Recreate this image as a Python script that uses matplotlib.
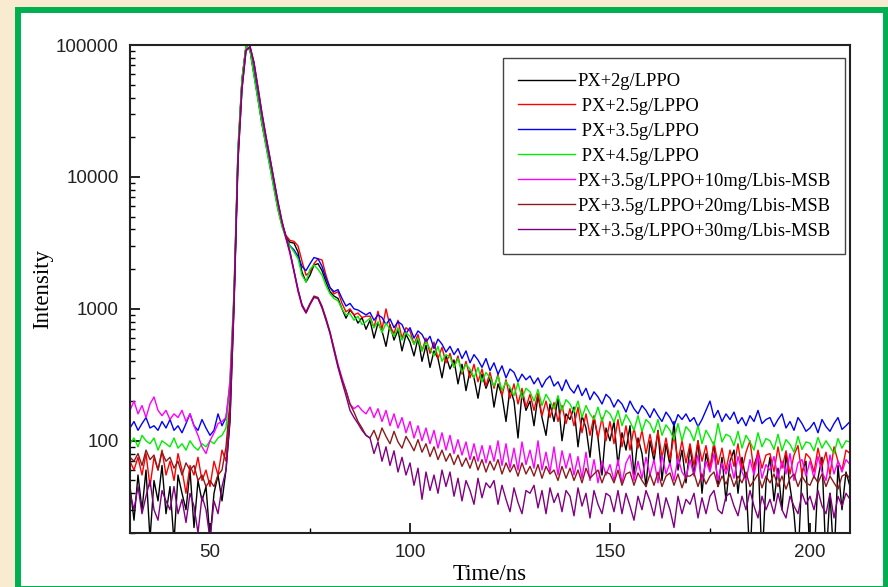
import numpy as np
import matplotlib
matplotlib.use("Agg")
import matplotlib.pyplot as plt
from matplotlib.patches import Rectangle
from matplotlib.ticker import FixedLocator, LogLocator, NullFormatter, MultipleLocator

# Decay curves, one sample per ns from 30 to 210 ns
time_ns = np.arange(30, 211)

px_2g = [
    45, 25, 55, 30, 60, 18, 50, 35, 65, 28,
    45, 17, 55, 40, 30, 60, 22, 50, 35, 45,
    18, 40, 55, 35, 60, 140, 1100, 15000, 54000, 97000,
    92000, 60000, 39000, 25000, 17500, 12000, 8200, 5700, 4300, 3500,
    3200, 3150, 2700, 1900, 1600, 1800, 2150, 2200, 1950, 1600,
    1350, 1250, 1200, 1000, 850, 980, 900, 780, 860, 700,
    820, 600, 780, 680, 520, 760, 580, 690, 480, 640,
    560, 440, 600, 400, 530, 360, 480, 420, 300, 440,
    350, 410, 270, 380, 240, 340, 300, 210, 320, 250,
    300, 180, 270, 220, 140, 250, 200, 105, 230, 170,
    200, 130, 220, 150, 110, 190, 140, 210, 100, 160,
    145, 180, 90, 155, 125, 75, 150, 105, 55, 125,
    100, 140, 65, 115, 85, 130, 55, 105, 80, 45,
    100, 70, 120, 50, 95, 65, 140, 60, 85, 48,
    90, 55, 100, 40, 80, 60, 95, 45, 75, 35,
    70, 85, 40, 75, 50, 12, 65, 80, 12, 48,
    75, 35, 62, 30, 80, 45, 28, 12, 58, 70,
    12, 12, 52, 75, 12, 40, 12, 65, 30, 58,
    45]

px_2_5g = [
    70, 60, 75, 55, 80, 45, 75, 60, 85, 55,
    70, 50, 80, 60, 40, 65, 55, 75, 50, 60,
    45, 70, 55, 85, 70, 180, 1300, 16000, 55000, 98000,
    93000, 61000, 40000, 26000, 18000, 12500, 8500, 5900, 4400, 3600,
    3300, 3250, 3000, 2300, 1800, 1900, 2200, 2400, 2350, 1800,
    1450, 1300, 1350, 1100, 950, 1000, 900, 930, 860, 880,
    880, 720, 960, 700, 1000, 740, 650, 820, 600, 720,
    680, 540, 640, 480, 600, 460, 560, 420, 510, 390,
    460, 360, 440, 320, 400, 300, 380, 280, 350, 260,
    330, 250, 320, 220, 290, 210, 270, 190, 250, 180,
    225, 170, 230, 155, 200, 150, 195, 140, 185, 135,
    175, 130, 180, 115, 160, 110, 155, 105, 150, 100,
    140, 95, 145, 90, 130, 85, 125, 88, 120, 80,
    112, 78, 118, 75, 105, 72, 110, 70, 100, 68,
    95, 65, 100, 70, 92, 62, 98, 66, 88, 60,
    85, 64, 95, 60, 82, 100, 58, 85, 62, 78,
    80, 58, 90, 62, 84, 56, 78, 92, 55, 80,
    74, 58, 88, 64, 82, 55, 90, 70, 60, 85,
    80]

px_3_5g = [
    125, 140, 120, 135, 150, 125, 130, 120, 140, 125,
    145, 120, 130, 115, 135, 160, 130, 120, 145, 125,
    110, 120, 160, 130, 150, 260, 1200, 15500, 54000, 97000,
    93000, 61000, 40000, 26000, 18000, 12500, 8500, 5900, 4400, 3500,
    3000, 2800, 2500, 2100, 1950, 2200, 2450, 2400, 2100, 1700,
    1450, 1350, 1400, 1200, 1050, 1100, 1000, 980, 940, 900,
    940, 820, 900, 860, 760, 840, 720, 800, 760, 650,
    720, 600, 680, 640, 560, 620, 500, 590, 540, 470,
    520, 450, 500, 420, 480, 390, 450, 410, 360, 420,
    340, 390, 320, 370, 300, 350, 330, 280, 320, 290,
    310, 270, 300, 255, 290, 310, 260, 280, 240, 290,
    250, 230, 265, 220, 250, 205, 235, 215, 190, 225,
    210, 180, 205, 190, 165, 200, 175, 160, 185, 170,
    150, 175, 155, 140, 165, 150, 130, 158, 145, 160,
    140, 150, 128, 145, 170, 200, 150, 170, 140, 160,
    145, 165, 135, 150, 130, 155, 140, 170, 135, 145,
    150, 128, 145, 160, 125, 140, 120, 150, 135, 118,
    125, 138, 115, 145, 128, 118, 135, 150, 122, 130,
    140]

px_4_5g = [
    95, 105, 90, 110, 100, 95, 105, 85, 100, 95,
    90, 105, 88, 95, 85, 100, 90, 85, 95, 90,
    100, 95, 105, 110, 125, 300, 1400, 17000, 56000, 98000,
    91000, 58000, 38000, 25000, 17000, 11800, 8000, 5600, 4200, 3400,
    3000, 2700, 2400, 1800, 1600, 2000, 2150, 2000, 1800, 1500,
    1300, 1200, 1150, 1000, 900, 920, 820, 880, 760, 800,
    850, 720, 800, 660, 780, 700, 620, 720, 580, 660,
    620, 540, 600, 480, 560, 500, 440, 520, 400, 450,
    430, 360, 420, 330, 380, 350, 300, 360, 280, 330,
    300, 260, 310, 240, 280, 255, 220, 275, 210, 250,
    235, 200, 245, 185, 225, 200, 175, 220, 170, 205,
    190, 165, 200, 150, 185, 160, 145, 180, 140, 170,
    160, 138, 170, 130, 158, 140, 120, 155, 118, 145,
    135, 115, 145, 110, 132, 120, 102, 135, 100, 128,
    118, 100, 130, 95, 120, 106, 92, 135, 98, 112,
    108, 92, 118, 88, 110, 98, 85, 115, 90, 104,
    100, 86, 112, 84, 102, 94, 82, 108, 86, 98,
    96, 84, 106, 88, 100, 90, 80, 104, 88, 100,
    98]

msb_10mg = [
    170, 200, 160, 185, 150, 190, 215, 170, 155, 170,
    145, 160, 150, 170, 140, 160, 130, 110, 90, 80,
    100, 115, 135, 140, 150, 280, 1200, 14000, 48000, 92000,
    97000, 72000, 46000, 29000, 19500, 13500, 9200, 6300, 4500, 3400,
    2600, 1900, 1350, 1050, 930, 1080, 1230, 1200, 1020, 830,
    660, 500, 380, 300, 240, 190, 175, 185, 170, 160,
    180, 150, 175, 140, 170, 130, 160, 125, 150, 115,
    140, 105, 130, 100, 125, 95, 120, 88, 115, 85,
    110, 80, 102, 78, 98, 72, 95, 70, 92, 68,
    92, 70, 100, 65, 95, 62, 88, 60, 98, 66,
    85, 62, 100, 60, 82, 58, 90, 55, 84, 62,
    80, 55, 76, 52, 82, 50, 72, 48, 70, 55,
    66, 50, 72, 48, 68, 78, 50, 70, 52, 75,
    55, 72, 48, 78, 56, 68, 50, 74, 58, 52,
    72, 54, 78, 50, 70, 58, 80, 50, 68, 56,
    70, 52, 76, 58, 50, 72, 55, 78, 52, 66,
    60, 76, 52, 70, 56, 80, 50, 68, 72, 54,
    70, 52, 76, 58, 50, 78, 56, 70, 58, 72,
    66]

msb_20mg = [
    75, 70, 80, 65, 85, 72, 78, 60, 82, 70,
    75, 62, 70, 55, 68, 60, 65, 50, 55, 45,
    50, 45, 55, 60, 90, 200, 1100, 13500, 47000, 91000,
    97000, 73000, 47000, 30000, 20000, 13800, 9400, 6400, 4600, 3500,
    2700, 1950, 1400, 1080, 950, 1100, 1250, 1220, 1050, 850,
    670, 500, 370, 290, 240, 190, 165, 140, 125, 110,
    105, 120, 100, 125, 108, 95, 118, 98, 88, 108,
    96, 84, 102, 82, 95, 76, 90, 72, 85, 70,
    80, 66, 78, 64, 74, 62, 76, 60, 72, 58,
    70, 60, 72, 56, 68, 58, 66, 54, 68, 56,
    64, 54, 66, 52, 64, 56, 60, 50, 64, 52,
    62, 50, 60, 48, 62, 52, 56, 60, 48, 58,
    56, 48, 60, 46, 56, 58, 46, 57, 50, 45,
    56, 46, 58, 45, 54, 57, 46, 56, 44, 54,
    54, 57, 45, 56, 47, 54, 58, 45, 54, 47,
    56, 45, 54, 48, 58, 45, 50, 56, 44, 54,
    48, 56, 45, 54, 43, 52, 56, 45, 54, 48,
    46, 54, 48, 56, 45, 54, 48, 43, 54, 56,
    52]

msb_30mg = [
    40, 30, 45, 28, 38, 50, 30, 25, 42, 35,
    30, 45, 28, 36, 24, 40, 32, 20, 38, 30,
    18, 35, 28, 45, 60, 150, 1000, 13000, 46000, 90000,
    98000, 74000, 48000, 30500, 20500, 14000, 9500, 6500, 4600, 3500,
    2700, 1950, 1400, 1060, 930, 1080, 1220, 1200, 1020, 820,
    650, 480, 360, 280, 220, 170, 150, 135, 120, 110,
    105, 80, 98, 70, 90, 65, 84, 58, 75, 55,
    68, 46, 62, 36, 58, 42, 55, 40, 60, 45,
    58, 38, 52, 35, 50, 42, 33, 52, 37, 48,
    44, 50, 33, 46, 36, 29, 44, 34, 28, 42,
    40, 46, 31, 42, 28, 44, 34, 40, 29, 42,
    38, 27, 44, 32, 40, 26, 42, 33, 28, 40,
    38, 29, 42, 28, 40, 32, 25, 38, 30, 42,
    35, 27, 40, 26, 37, 30, 22, 38, 28, 36,
    33, 40, 26, 37, 28, 38, 42, 30, 28, 38,
    40, 32, 27, 38, 30, 42, 32, 26, 38, 30,
    36, 28, 40, 30, 26, 38, 32, 28, 40, 33,
    38, 30, 42, 32, 28, 40, 26, 38, 32, 40,
    36]

series = [
    (px_2g, "PX+2g/LPPO", "#000000"),
    (px_2_5g, " PX+2.5g/LPPO", "#ff0000"),
    (px_3_5g, " PX+3.5g/LPPO", "#0000ff"),
    (px_4_5g, " PX+4.5g/LPPO", "#00ee00"),
    (msb_10mg, "PX+3.5g/LPPO+10mg/Lbis-MSB", "#ff00ff"),
    (msb_20mg, "PX+3.5g/LPPO+20mg/Lbis-MSB", "#8b1a1a"),
    (msb_30mg, "PX+3.5g/LPPO+30mg/Lbis-MSB", "#800080"),
]

serif = "Liberation Serif"
sans = "Liberation Sans"

fig = plt.figure(figsize=(8.88, 5.87), dpi=100, facecolor="#f8ebd0")
# white panel with a green border, kept behind the axes
fig.patches.append(Rectangle((0.0203, -0.004), 0.977, 0.987, transform=fig.transFigure,
                             facecolor="white", edgecolor="#00b050", linewidth=4.3, zorder=-5))

ax = fig.add_axes([0.1464, 0.092, 0.8108, 0.8313])
ax.set_facecolor("white")

for values, label, color in series:
    ax.plot(time_ns, values, color=color, linewidth=1.0, label=label)

ax.set_yscale("log")
ax.set_xlim(30, 210)
ax.set_ylim(20, 100000)

ax.yaxis.set_major_locator(FixedLocator([100, 1000, 10000, 100000]))
ax.set_yticklabels(["100", "1000", "10000", "100000"])
ax.yaxis.set_minor_locator(LogLocator(base=10, subs=np.arange(2, 10)))
ax.yaxis.set_minor_formatter(NullFormatter())
ax.xaxis.set_major_locator(FixedLocator([50, 100, 150, 200]))
ax.xaxis.set_minor_locator(MultipleLocator(25))

ax.tick_params(which="major", direction="in", length=7, width=1.2, pad=8,
               labelsize=13.5, top=False, right=False)
ax.tick_params(which="minor", direction="in", length=3.6, width=1.0, top=False, right=False)
for lbl in ax.get_xticklabels() + ax.get_yticklabels():
    lbl.set_fontfamily(sans)
    lbl.set_color("#222222")

for side in ax.spines.values():
    side.set_linewidth(1.5)
    side.set_color("#222222")

ax.set_xlabel("Time/ns", fontfamily=serif, fontsize=16.5, labelpad=2)
ax.set_ylabel("Intensity", fontfamily=serif, fontsize=16.5, labelpad=2)

leg = ax.legend(loc="upper right", bbox_to_anchor=(0.993, 0.973), borderaxespad=0,
                prop={"family": serif, "size": 13.3}, handlelength=3.1, handletextpad=0.1,
                labelspacing=0.43, borderpad=0.8, fancybox=False, framealpha=1)
leg.get_frame().set_edgecolor("#444444")
leg.get_frame().set_linewidth(1.0)

fig.savefig("out.png", dpi=100, facecolor=fig.get_facecolor())
